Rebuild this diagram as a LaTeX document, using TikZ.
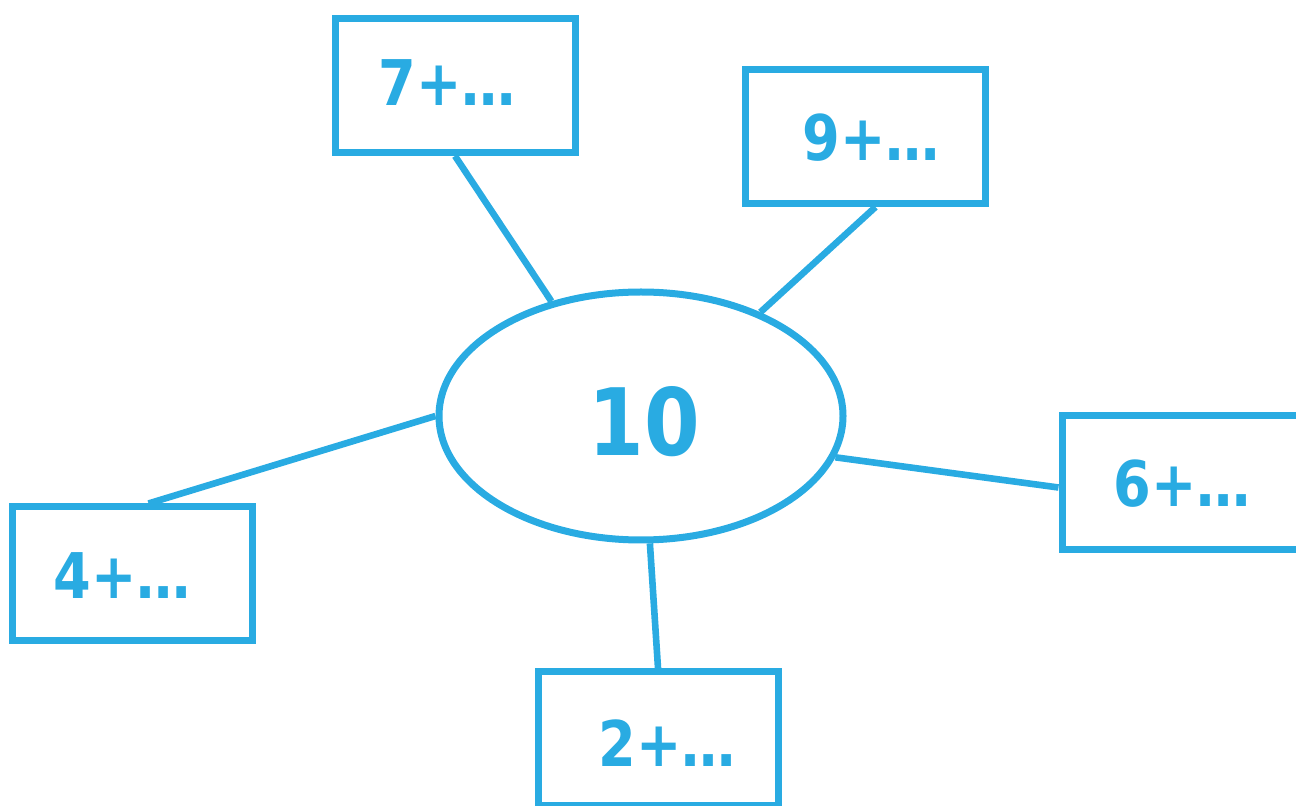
\documentclass[tikz,border=0pt]{standalone}
\usetikzlibrary{shapes.geometric}
\usepackage{fontspec}
\setmainfont{DejaVu Sans}[FakeStretch=0.86]
\definecolor{cy}{HTML}{29ABE2}
\begin{document}
\begin{tikzpicture}[x=0.5pt,y=-0.5pt,
  box/.style={draw=cy,line width=3.5pt,minimum width=120pt,minimum height=67pt,inner sep=0pt},
  lbl/.style={text=cy,font=\bfseries\fontsize{31.5}{36}\selectfont,anchor=base,inner sep=0pt},
  link/.style={draw=cy,line width=3.3pt}]
\useasboundingbox (0,0) rectangle (1296,806);
\node[ellipse,draw=cy,line width=3.5pt,minimum width=202pt,minimum height=124pt,inner sep=0pt] (e) at (641,416) {};
\node[text=cy,font=\bfseries\fontsize{46.5}{50}\selectfont,anchor=base,inner sep=0pt] (t10) at (644,456) {10};
\node[box] (b7) at (455,85.5) {};
\node[box] (b9) at (865.5,136.5) {};
\node[box] (b6) at (1182,482.5) {};
\node[box] (b4) at (132.5,574) {};
\node[box] (b2) at (658,738.5) {};
\node[lbl] (t7) at (447,106) {7+…};
\node[lbl] (t9) at (871,161) {9+…};
\node[lbl] (t6) at (1182,507) {6+…};
\node[lbl] (t4) at (122,599) {4+…};
\node[lbl] (t2) at (667,766) {2+…};
\draw[link] (b7.south) -- (e.128);
\draw[link] ([xshift=5pt]b9.south) -- (e.41.6);
\draw[link] ([yshift=-2.5pt]b6.west) -- (e.-12);
\draw[link] ([xshift=8pt]b4.north) -- (e.west);
\draw[link] (b2.north) -- (e.-86);
\end{tikzpicture}
\end{document}
